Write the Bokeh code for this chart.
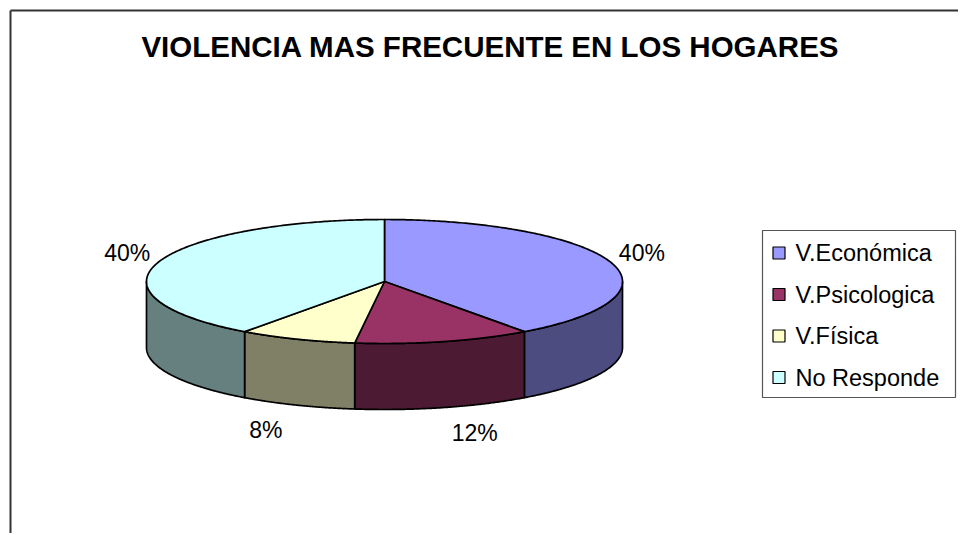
import numpy as np
from bokeh.plotting import figure
from bokeh.models import Range1d
from bokeh.core.properties import value
from bokeh.embed import file_html
from bokeh.resources import INLINE

# ---- data ----
categories = ["V.Económica", "V.Psicologica", "V.Física", "No Responde"]
values = [40, 12, 8, 40]
top_colors = ["#9999FF", "#993366", "#FFFFCC", "#CCFFFF"]
side_colors = ["#4C4C80", "#4D1A33", "#808066", "#668080"]
title_text = "VIOLENCIA MAS FRECUENTE EN LOS HOGARES"

# ---- layout (screen-pixel coordinates, y downwards) ----
W, H = 958, 533
OX, OY = 0, 0
CX, CY = 384, 281
RX, RY = 238, 62
DEPTH = 66
FONT = "Liberation Sans"

p = figure(width=W, height=H, output_backend="svg", toolbar_location=None,
           x_range=Range1d(OX, OX + W), y_range=Range1d(OY + H, OY),
           min_border=0, x_axis_location=None, y_axis_location=None,
           outline_line_color=None, background_fill_color="white",
           border_fill_color="white")
p.grid.visible = False

# chart frame (left and top edges visible in the window)
p.line(x=[10, 10], y=[OY + H + 5, 10], line_color="#333333", line_width=2)
p.line(x=[10, OX + W + 5], y=[10, 10], line_color="#333333", line_width=2)

# ---- pie geometry ----
total = float(sum(values))
fracs = [v / total for v in values]
bounds = np.concatenate([[0.0], np.cumsum(fracs)]) * 2 * np.pi  # clockwise from 12 o'clock


def ex(t):
    return CX + RX * np.sin(t)


def ey(t):
    return CY - RY * np.cos(t)


# side faces (front half: pi/2 .. 3pi/2)
side_xs, side_ys, side_cols = [], [], []
for i in range(len(values)):
    a, b = bounds[i], bounds[i + 1]
    lo, hi = max(a, np.pi / 2), min(b, 3 * np.pi / 2)
    if hi <= lo:
        continue
    t = np.linspace(lo, hi, 120)
    xs = np.concatenate([ex(t), ex(t[::-1])])
    ys = np.concatenate([ey(t), ey(t[::-1]) + DEPTH])
    side_xs.append(list(xs))
    side_ys.append(list(ys))
    side_cols.append(side_colors[i])

p.patches(xs=side_xs, ys=side_ys, fill_color=side_cols, line_color="black",
          line_width=1.7, line_join="round")

# top faces
top_xs, top_ys = [], []
for i in range(len(values)):
    a, b = bounds[i], bounds[i + 1]
    t = np.linspace(a, b, 240)
    top_xs.append([CX] + list(ex(t)) + [CX])
    top_ys.append([CY] + list(ey(t)) + [CY])

p.patches(xs=top_xs, ys=top_ys, fill_color=top_colors, line_color="black",
          line_width=1.7, line_join="round")

# percentage labels
lx, ly, lt = [], [], []
for i in range(len(values)):
    m = (bounds[i] + bounds[i + 1]) / 2
    s, c = np.sin(m), np.cos(m)
    x = ex(m) + 31 * np.sign(s)
    y = ey(m) + (DEPTH + 25 if c < 0 else -9)
    lx.append(x)
    ly.append(y)
    lt.append(f"{round(fracs[i] * 100)}%")

p.text(x=lx, y=ly, text=lt, text_font=value(FONT), text_font_size="23px",
       text_align="center", text_baseline="middle", text_color="black")

# title
p.text(x=[490], y=[46], text=[title_text], text_font=value(FONT),
       text_font_size="29.5px", text_font_style="bold", text_align="center",
       text_baseline="middle", text_color="black")

# legend
LX0, LX1, LY0, LY1 = 762, 955, 230, 397
p.quad(left=[LX0], right=[LX1], top=[LY0], bottom=[LY1], fill_color="white",
       line_color="#555555", line_width=1.2)
row_y = [LY0 + 22.5 + i * 41.5 for i in range(len(categories))]
p.rect(x=[778.5] * len(categories), y=row_y, width=12, height=12,
       fill_color=top_colors, line_color="black", line_width=1.2)
p.text(x=[795] * len(categories), y=row_y, text=categories,
       text_font=value(FONT), text_font_size="23.5px", text_align="left",
       text_baseline="middle", text_color="black")

open("out.html", "w").write(file_html(p, INLINE))
